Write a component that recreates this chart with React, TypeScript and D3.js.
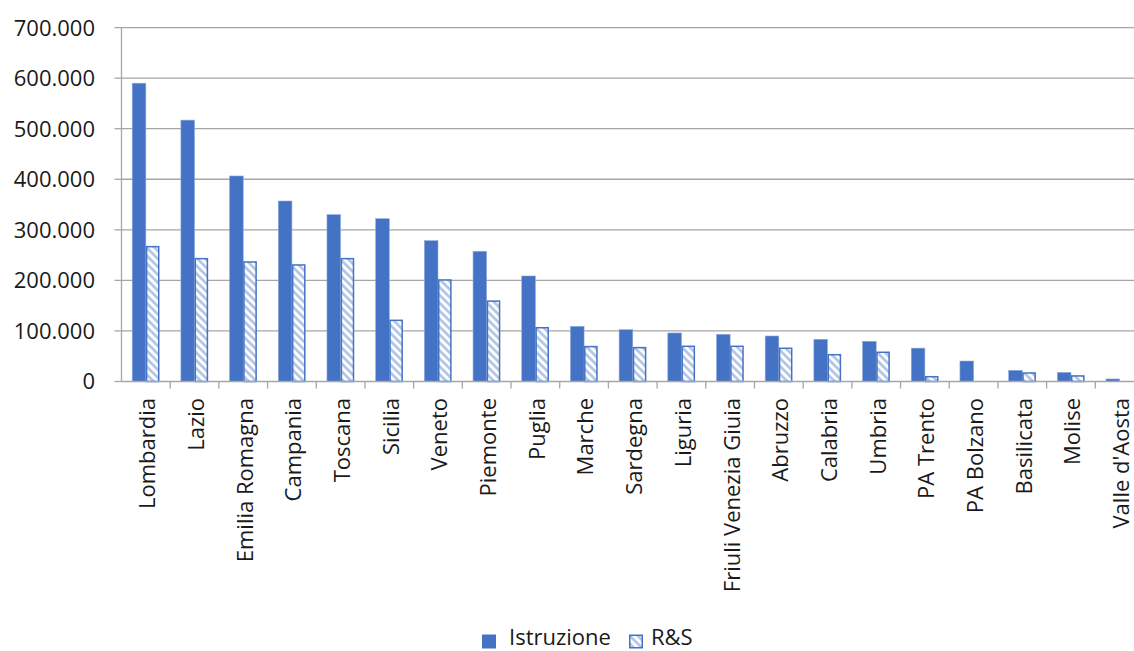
import React from "react";
import * as d3 from "d3";

const categories = [
  "Lombardia", "Lazio", "Emilia Romagna", "Campania", "Toscana", "Sicilia", "Veneto",
  "Piemonte", "Puglia", "Marche", "Sardegna", "Liguria", "Friuli Venezia Giuia",
  "Abruzzo", "Calabria", "Umbria", "PA Trento", "PA Bolzano", "Basilicata", "Molise",
  "Valle d'Aosta",
];
const istruzione = [
  590000, 517000, 406500, 357000, 330000, 322000, 278500, 257600, 208700, 109000,
  102500, 96000, 93400, 90000, 83500, 79500, 66000, 40500, 22000, 18000, 5000,
];
const rs: (number | null)[] = [
  266700, 243000, 236400, 230500, 243000, 121000, 200800, 159000, 106400, 69000,
  67000, 69600, 69600, 65700, 53000, 57800, 9500, null, 16800, 11000, null,
];
const yTicks = [0, 100000, 200000, 300000, 400000, 500000, 600000, 700000];
const seriesNames = ["Istruzione", "R&S"];

const W = 1134;
const H = 651;
const left = 121.5;
const right = 1144;
const top = 27.6;
const bottom = 381.5;
const BLUE = "#4472C4";
const GRID = "#a6a6a6";
const TEXT = "#1a1a1a";
const FONT = "'Open Sans', sans-serif";
const FS = 22;

const it = d3.formatLocale({ decimal: ",", thousands: ".", grouping: [3], currency: ["€", ""] });
const fmt = it.format(",.0f");

export default function App() {
  const x0 = d3.scaleBand<string>().domain(categories).range([left, right]).padding(0);
  const step = x0.step();
  const groupW = step * 0.56;
  const x1 = d3.scaleBand<string>().domain(seriesNames).range([0, groupW]).padding(0);
  const y = d3.scaleLinear().domain([0, 700000]).range([bottom, top]);

  return (
    <svg width={W} height={H} style={{ position: "absolute", left: 0, top: 0, background: "#fff" }}>
      <defs>
        <pattern id="hatch" patternUnits="userSpaceOnUse" width={5.6} height={5.6} patternTransform="rotate(-45)">
          <rect width={5.6} height={5.6} fill="#ffffff" />
          <rect width={2.8} height={5.6} fill="#b4c7e7" />
        </pattern>
      </defs>
      {yTicks.map((t) => (
        <g key={t}>
          {t > 0 && <line x1={left} x2={W} y1={y(t)} y2={y(t)} stroke={GRID} strokeWidth={1.3} />}
          <line x1={left - 7} x2={left} y1={y(t)} y2={y(t)} stroke={GRID} strokeWidth={1.3} />
          <text x={95} y={y(t)} dy="0.36em" textAnchor="end" fontFamily={FONT} fontSize={FS} fill={TEXT}>
            {fmt(t)}
          </text>
        </g>
      ))}
      {categories.map((c, i) => {
        const gx = (x0(c) as number) + (step - groupW) / 2;
        const v1 = istruzione[i];
        const v2 = rs[i];
        return (
          <g key={c}>
            <rect x={gx + (x1("Istruzione") as number)} y={y(v1)} width={x1.bandwidth()} height={bottom - y(v1)} fill={BLUE} stroke="#8faadc" strokeWidth={0.6} />
            {v2 != null && (
              <rect x={gx + (x1("R&S") as number) + 0.75} y={y(v2)} width={x1.bandwidth() - 1.5} height={bottom - y(v2)} fill="url(#hatch)" stroke={BLUE} strokeWidth={1.5} />
            )}
          </g>
        );
      })}
      <line x1={left} x2={left} y1={top} y2={bottom} stroke={GRID} strokeWidth={1.3} />
      <line x1={left} x2={W} y1={bottom} y2={bottom} stroke={GRID} strokeWidth={1.3} />
      {categories.map((c) => (
        <line key={"t" + c} x1={(x0(c) as number) + step} x2={(x0(c) as number) + step} y1={bottom} y2={bottom + 7} stroke={GRID} strokeWidth={1.3} />
      ))}
      {categories.map((c) => {
        const cx = (x0(c) as number) + step / 2 + 1.5;
        const ty = bottom + 16.5;
        return (
          <text key={"l" + c} transform={`translate(${cx},${ty}) rotate(-90)`} dy="0.36em" textAnchor="end" fontFamily={FONT} fontSize={FS} fill={TEXT}>
            {c}
          </text>
        );
      })}
      <g>
        <rect x={482} y={634.5} width={14} height={14} fill={BLUE} />
        <text x={509} y={645} fontFamily={FONT} fontSize={FS} fill={TEXT}>Istruzione</text>
        <rect x={629.75} y={635.25} width={12.5} height={12.5} fill="url(#hatch)" stroke={BLUE} strokeWidth={1.5} />
        <text x={651} y={645} fontFamily={FONT} fontSize={FS} fill={TEXT}>R&amp;S</text>
      </g>
    </svg>
  );
}
